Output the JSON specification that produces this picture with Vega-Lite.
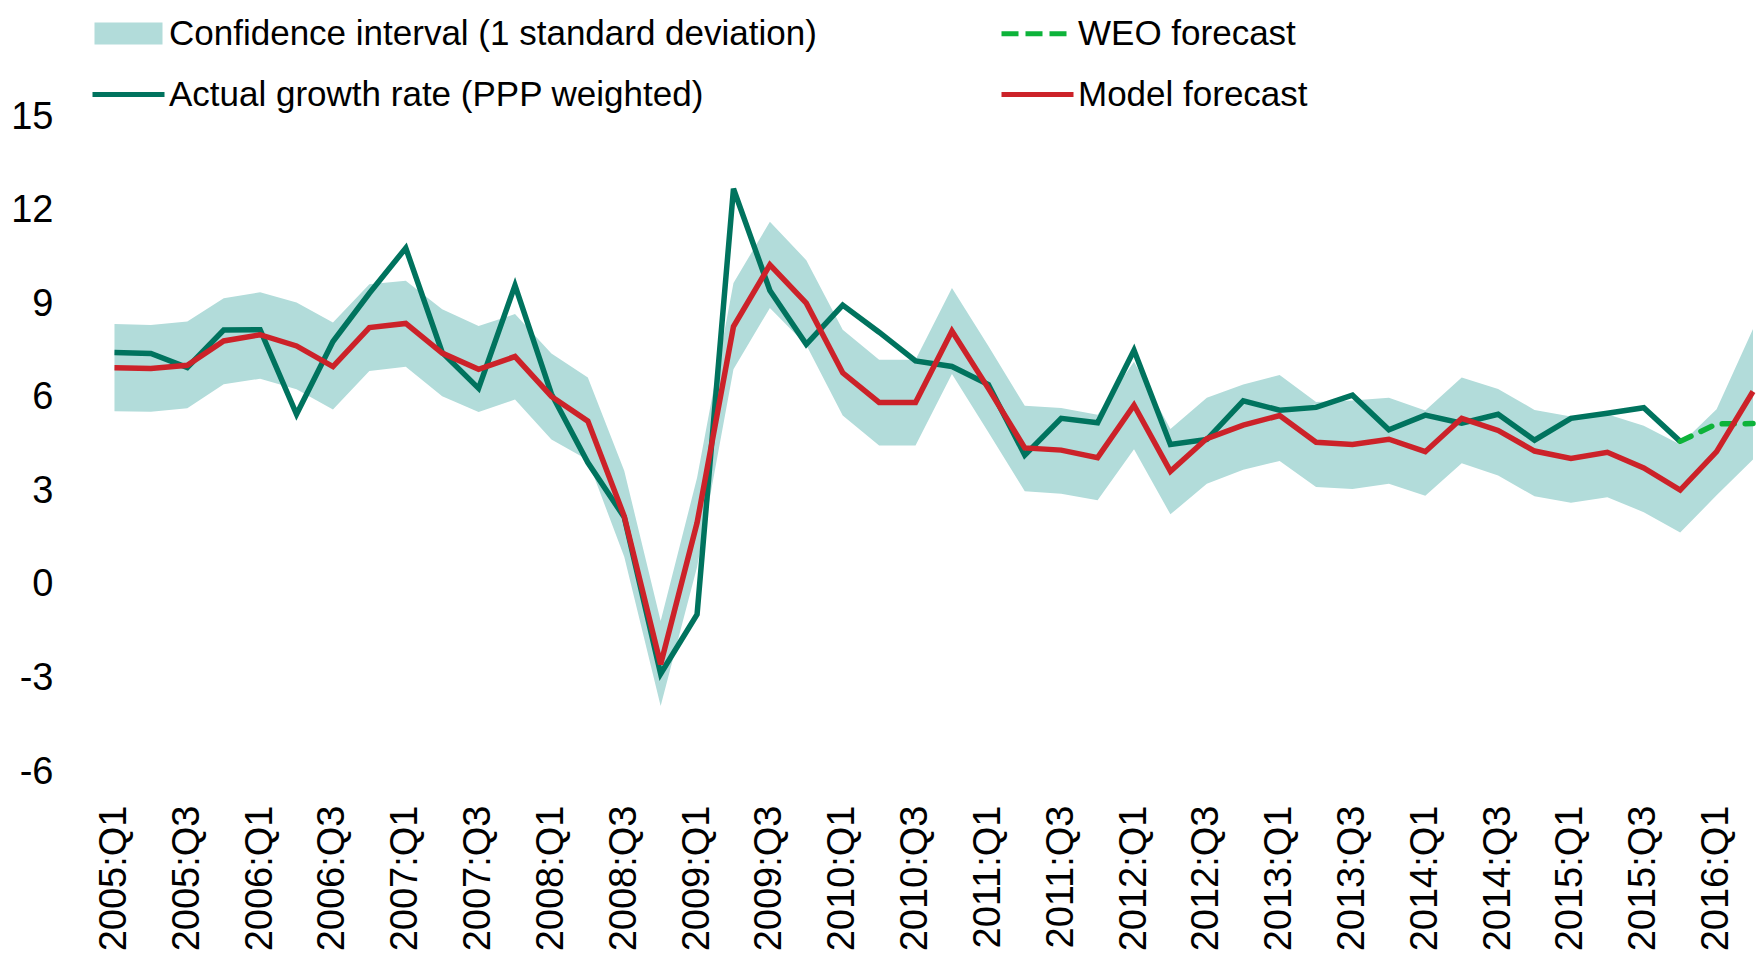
{
  "$schema": "https://vega.github.io/schema/vega-lite/v6.json",
  "autosize": {"type": "none"},
  "padding": {"left": 98, "top": 117, "right": 0, "bottom": 183},
  "width": 1658,
  "height": 655,
  "config": {"view": {"stroke": null}, "font": "Liberation Sans, Arial, sans-serif"},
  "data": {"values": [
    {"q": "2005:Q1", "actual": 7.45, "model": 6.96, "lo": 5.57, "hi": 8.36},
    {"q": "2005:Q2", "actual": 7.42, "model": 6.94, "lo": 5.55, "hi": 8.33},
    {"q": "2005:Q3", "actual": 6.97, "model": 7.04, "lo": 5.66, "hi": 8.44},
    {"q": "2005:Q4", "actual": 8.17, "model": 7.82, "lo": 6.43, "hi": 9.19},
    {"q": "2006:Q1", "actual": 8.18, "model": 8.02, "lo": 6.61, "hi": 9.38},
    {"q": "2006:Q2", "actual": 5.47, "model": 7.66, "lo": 6.27, "hi": 9.05},
    {"q": "2006:Q3", "actual": 7.8, "model": 7.0, "lo": 5.62, "hi": 8.41},
    {"q": "2006:Q4", "actual": 9.35, "model": 8.25, "lo": 6.86, "hi": 9.64},
    {"q": "2007:Q1", "actual": 10.8, "model": 8.38, "lo": 6.99, "hi": 9.75},
    {"q": "2007:Q2", "actual": 7.45, "model": 7.43, "lo": 6.05, "hi": 8.84},
    {"q": "2007:Q3", "actual": 6.3, "model": 6.91, "lo": 5.54, "hi": 8.3},
    {"q": "2007:Q4", "actual": 9.6, "model": 7.32, "lo": 5.94, "hi": 8.68},
    {"q": "2008:Q1", "actual": 6.12, "model": 6.04, "lo": 4.66, "hi": 7.42},
    {"q": "2008:Q2", "actual": 3.92, "model": 5.25, "lo": 4.0, "hi": 6.65},
    {"q": "2008:Q3", "actual": 2.17, "model": 2.2, "lo": 0.9, "hi": 3.66},
    {"q": "2008:Q4", "actual": -2.85, "model": -2.55, "lo": -3.88, "hi": -1.16},
    {"q": "2009:Q1", "actual": -0.95, "model": 1.99, "lo": 0.57, "hi": 3.43},
    {"q": "2009:Q2", "actual": 12.7, "model": 8.28, "lo": 6.91, "hi": 9.68},
    {"q": "2009:Q3", "actual": 9.44, "model": 10.26, "lo": 8.88, "hi": 11.64},
    {"q": "2009:Q4", "actual": 7.71, "model": 9.03, "lo": 7.69, "hi": 10.41},
    {"q": "2010:Q1", "actual": 8.97, "model": 6.8, "lo": 5.43, "hi": 8.18},
    {"q": "2010:Q2", "actual": 8.1, "model": 5.85, "lo": 4.47, "hi": 7.22},
    {"q": "2010:Q3", "actual": 7.18, "model": 5.85, "lo": 4.47, "hi": 7.22},
    {"q": "2010:Q4", "actual": 7.0, "model": 8.14, "lo": 6.76, "hi": 9.52},
    {"q": "2011:Q1", "actual": 6.42, "model": 6.3, "lo": 4.89, "hi": 7.66},
    {"q": "2011:Q2", "actual": 4.16, "model": 4.39, "lo": 3.0, "hi": 5.74},
    {"q": "2011:Q3", "actual": 5.34, "model": 4.32, "lo": 2.92, "hi": 5.67},
    {"q": "2011:Q4", "actual": 5.2, "model": 4.08, "lo": 2.71, "hi": 5.45},
    {"q": "2012:Q1", "actual": 7.52, "model": 5.76, "lo": 4.35, "hi": 7.15},
    {"q": "2012:Q2", "actual": 4.5, "model": 3.64, "lo": 2.26, "hi": 5.0},
    {"q": "2012:Q3", "actual": 4.66, "model": 4.69, "lo": 3.24, "hi": 6.0},
    {"q": "2012:Q4", "actual": 5.9, "model": 5.12, "lo": 3.69, "hi": 6.42},
    {"q": "2013:Q1", "actual": 5.6, "model": 5.43, "lo": 3.97, "hi": 6.73},
    {"q": "2013:Q2", "actual": 5.69, "model": 4.57, "lo": 3.14, "hi": 5.86},
    {"q": "2013:Q3", "actual": 6.08, "model": 4.5, "lo": 3.07, "hi": 5.91},
    {"q": "2013:Q4", "actual": 4.97, "model": 4.67, "lo": 3.24, "hi": 6.0},
    {"q": "2014:Q1", "actual": 5.44, "model": 4.27, "lo": 2.86, "hi": 5.59},
    {"q": "2014:Q2", "actual": 5.18, "model": 5.34, "lo": 3.9, "hi": 6.65},
    {"q": "2014:Q3", "actual": 5.47, "model": 4.95, "lo": 3.51, "hi": 6.28},
    {"q": "2014:Q4", "actual": 4.64, "model": 4.29, "lo": 2.84, "hi": 5.61},
    {"q": "2015:Q1", "actual": 5.34, "model": 4.05, "lo": 2.63, "hi": 5.4},
    {"q": "2015:Q2", "actual": 5.5, "model": 4.25, "lo": 2.81, "hi": 5.47},
    {"q": "2015:Q3", "actual": 5.68, "model": 3.75, "lo": 2.33, "hi": 5.1},
    {"q": "2015:Q4", "actual": 4.6, "model": 3.04, "lo": 1.68, "hi": 4.5, "weo": 4.6},
    {"q": "2016:Q1", "model": 4.27, "lo": 2.87, "hi": 5.63, "weo": 5.16},
    {"q": "2016:Q2", "model": 6.2, "lo": 4.02, "hi": 8.2, "weo": 5.17}
  ]},
  "encoding": {
    "x": {
      "field": "q", "type": "ordinal",
      "scale": {"type": "point", "padding": 0.2675, "align": 0.846, "domain": ["2005:Q1","2005:Q2","2005:Q3","2005:Q4","2006:Q1","2006:Q2","2006:Q3","2006:Q4","2007:Q1","2007:Q2","2007:Q3","2007:Q4","2008:Q1","2008:Q2","2008:Q3","2008:Q4","2009:Q1","2009:Q2","2009:Q3","2009:Q4","2010:Q1","2010:Q2","2010:Q3","2010:Q4","2011:Q1","2011:Q2","2011:Q3","2011:Q4","2012:Q1","2012:Q2","2012:Q3","2012:Q4","2013:Q1","2013:Q2","2013:Q3","2013:Q4","2014:Q1","2014:Q2","2014:Q3","2014:Q4","2015:Q1","2015:Q2","2015:Q3","2015:Q4","2016:Q1","2016:Q2"]},
      "axis": {
        "title": null, "domain": false, "ticks": false, "grid": false,
        "values": ["2005:Q1","2005:Q3","2006:Q1","2006:Q3","2007:Q1","2007:Q3","2008:Q1","2008:Q3","2009:Q1","2009:Q3","2010:Q1","2010:Q3","2011:Q1","2011:Q3","2012:Q1","2012:Q3","2013:Q1","2013:Q3","2014:Q1","2014:Q3","2015:Q1","2015:Q3","2016:Q1"],
        "labelAngle": 270, "labelAlign": "right", "labelBaseline": "middle",
        "labelFontSize": 38, "labelColor": "#000000", "labelPadding": 33, "labelOverlap": false
      }
    }
  },
  "layer": [
    {
      "mark": {"type": "area", "opacity": 1},
      "encoding": {
        "y": {"field": "lo", "type": "quantitative",
          "scale": {"domain": [-6, 15], "nice": false, "zero": false},
          "axis": {"title": null, "domain": false, "ticks": false, "grid": false, "values": [-6, -3, 0, 3, 6, 9, 12, 15], "labelExpr": "'' + datum.value", "labelFontSize": 38, "labelColor": "#000000", "labelPadding": 45}},
        "y2": {"field": "hi"},
        "color": {"datum": "Confidence interval (1 standard deviation)", "type": "nominal",
          "scale": {"domain": ["Confidence interval (1 standard deviation)", "Actual growth rate (PPP weighted)", "WEO forecast", "Model forecast"], "range": ["#b2dcda", "#00735e", "#0db33a", "#cc2229"]},
          "legend": {
            "title": null, "orient": "none", "legendX": 8, "legendY": -106, "columns": 2, "columnPadding": 174, "rowPadding": 20, "padding": 0,
            "symbolSize": 1600, "symbolStrokeWidth": 5, "symbolOpacity": 1,
            "symbolType": {"expr": "datum.value === 'Confidence interval (1 standard deviation)' ? 'M-1.575,-0.425H1.575V0.425H-1.575Z' : 'M-1.8,0H1.8'"},
            "symbolFillColor": {"expr": "datum.value === 'Confidence interval (1 standard deviation)' ? '#b2dcda' : 'transparent'"},
            "symbolStrokeColor": {"expr": "datum.value === 'Confidence interval (1 standard deviation)' ? '#b2dcda' : datum.value === 'WEO forecast' ? '#0db33a' : datum.value === 'Model forecast' ? '#cc2229' : '#00735e'"},
            "symbolDash": {"expr": "datum.value === 'WEO forecast' ? [17, 7] : [1000, 0]"},
            "labelFontSize": 35, "labelColor": "#000000", "labelLimit": 1200, "labelOffset": 18
          }}
      }
    },
    {
      "mark": {"type": "rule", "color": "#888888", "strokeWidth": 2},
      "encoding": {"y": {"datum": 0, "type": "quantitative"}}
    },
    {
      "mark": {"type": "line", "strokeWidth": 5.5},
      "encoding": {
        "y": {"field": "actual", "type": "quantitative"},
        "color": {"datum": "Actual growth rate (PPP weighted)", "type": "nominal"}
      }
    },
    {
      "mark": {"type": "line", "strokeWidth": 5.5, "strokeDash": [12, 11], "strokeCap": "round"},
      "encoding": {
        "y": {"field": "weo", "type": "quantitative"},
        "color": {"datum": "WEO forecast", "type": "nominal"}
      }
    },
    {
      "mark": {"type": "line", "strokeWidth": 5.5},
      "encoding": {
        "y": {"field": "model", "type": "quantitative"},
        "color": {"datum": "Model forecast", "type": "nominal"}
      }
    }
  ]
}
